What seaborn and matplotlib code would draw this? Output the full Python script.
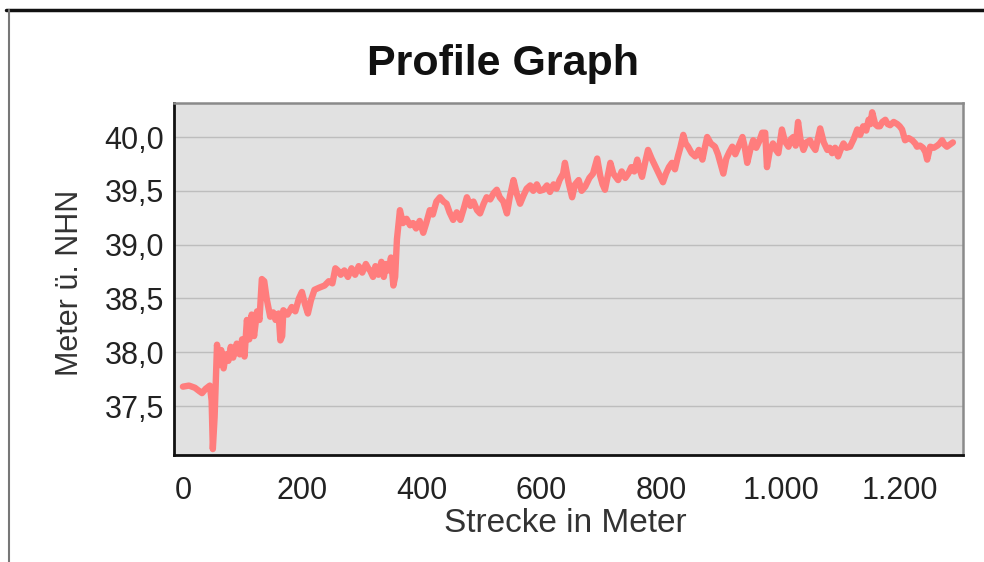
"""Profile graph: elevation along a track (Strecke vs. Meter ü. NHN)."""
import matplotlib
matplotlib.use("Agg")
import matplotlib.pyplot as plt
import matplotlib.ticker as mticker
import pandas as pd
import seaborn as sns

TITLE = "Profile Graph"
X_LABEL = "Strecke in Meter"
Y_LABEL = "Meter ü. NHN"

# distance along the track (m)
distance_m = [
    0, 10, 20, 27, 32, 38, 45, 48, 50, 53, 57, 60, 64, 68, 72, 76, 80, 84, 90, 95,
    99, 103, 107, 111, 115, 119, 124, 128, 132, 136, 140, 146, 151, 155, 160, 163,
    166, 168, 175, 182, 188, 194, 199, 204, 209, 214, 220, 228, 237, 244, 250, 255,
    259, 264, 270, 276, 282, 288, 294, 300, 306, 310, 313, 318, 322, 327, 332, 336,
    340, 344, 348, 352, 355, 358, 363, 368, 374, 380, 385, 390, 396, 402, 407, 413,
    418, 424, 430, 436, 441, 446, 452, 458, 464, 470, 475, 481, 486, 492, 497, 503,
    508, 514, 520, 525, 530, 536, 542, 547, 553, 558, 564, 570, 575, 581, 586, 592,
    597, 603, 609, 614, 620, 625, 630, 636, 639, 645, 651, 656, 662, 667, 673, 680,
    686, 693, 698, 702, 706, 710, 715, 720, 728, 734, 740, 745, 750, 755, 760, 764,
    768, 773, 778, 784, 790, 796, 803, 808, 813, 818, 823, 828, 832, 837, 841, 845,
    851, 857, 863, 869, 873, 877, 883, 890, 895, 899, 904, 909, 914, 919, 924, 930,
    936, 940, 944, 949, 954, 959, 964, 969, 974, 977, 982, 987, 992, 996, 1002, 1007,
    1013, 1017, 1021, 1025, 1029, 1033, 1038, 1043, 1049, 1053, 1058, 1062, 1066,
    1072, 1078, 1082, 1086, 1091, 1096, 1100, 1105, 1110, 1116, 1122, 1128, 1133,
    1138, 1143, 1147, 1150, 1153, 1158, 1162, 1166, 1170, 1175, 1179, 1183, 1189,
    1195, 1199, 1203, 1208, 1214, 1220, 1225, 1228, 1233, 1238, 1242, 1245, 1250,
    1256, 1262, 1266, 1270, 1274, 1278, 1283, 1288,
]

# elevation (m above NHN) at each distance
elevation_m = [
    37.68, 37.69, 37.67, 37.64, 37.62, 37.66, 37.69, 37.55, 37.10, 37.40, 38.07, 37.88,
    38.02, 37.85, 37.98, 37.92, 38.05, 37.95, 38.08, 37.98, 38.12, 37.96, 38.30, 38.12,
    38.35, 38.15, 38.38, 38.30, 38.68, 38.66, 38.50, 38.33, 38.37, 38.30, 38.36, 38.11,
    38.15, 38.39, 38.35, 38.42, 38.38, 38.50, 38.56, 38.45, 38.36, 38.48, 38.58, 38.60,
    38.62, 38.66, 38.64, 38.78, 38.76, 38.72, 38.76, 38.70, 38.78, 38.72, 38.80, 38.74,
    38.82, 38.78, 38.76, 38.70, 38.80, 38.72, 38.84, 38.70, 38.82, 38.76, 38.88, 38.62,
    38.70, 39.05, 39.32, 39.20, 39.24, 39.18, 39.20, 39.15, 39.22, 39.11, 39.20, 39.32,
    39.28, 39.40, 39.44, 39.40, 39.38, 39.30, 39.23, 39.30, 39.23, 39.34, 39.44, 39.36,
    39.40, 39.32, 39.29, 39.38, 39.44, 39.42, 39.48, 39.51, 39.44, 39.40, 39.29, 39.45,
    39.60, 39.48, 39.38, 39.46, 39.52, 39.55, 39.50, 39.56, 39.50, 39.51, 39.55, 39.49,
    39.56, 39.52, 39.60, 39.66, 39.76, 39.58, 39.44, 39.56, 39.60, 39.50, 39.54, 39.62,
    39.66, 39.80, 39.64, 39.56, 39.51, 39.62, 39.76, 39.66, 39.60, 39.68, 39.62, 39.66,
    39.72, 39.68, 39.79, 39.70, 39.63, 39.76, 39.88, 39.80, 39.73, 39.66, 39.58, 39.66,
    39.72, 39.76, 39.70, 39.82, 39.90, 40.02, 39.94, 39.91, 39.85, 39.82, 39.88, 39.79,
    39.90, 40.00, 39.94, 39.91, 39.84, 39.76, 39.66, 39.80, 39.86, 39.91, 39.84, 39.92,
    40.00, 39.90, 39.76, 39.88, 39.97, 39.90, 39.96, 40.04, 40.04, 39.72, 39.88, 39.94,
    39.88, 39.85, 40.07, 39.96, 39.91, 39.98, 40.00, 39.92, 40.14, 39.98, 39.88, 39.95,
    39.97, 39.92, 39.88, 39.98, 40.08, 39.95, 39.88, 39.90, 39.85, 39.90, 39.82, 39.88,
    39.94, 39.90, 39.91, 39.98, 40.07, 40.02, 40.10, 40.06, 40.16, 40.12, 40.23, 40.12,
    40.10, 40.10, 40.14, 40.16, 40.12, 40.11, 40.14, 40.12, 40.10, 40.07, 39.97, 39.99,
    39.97, 39.94, 39.91, 39.92, 39.90, 39.86, 39.79, 39.91, 39.90, 39.92, 39.94, 39.97,
    39.93, 39.91, 39.93, 39.95,
]

x_ticks = [0, 200, 400, 600, 800, 1000, 1200]
y_ticks = [37.5, 38.0, 38.5, 39.0, 39.5, 40.0]

sns.set_style("white")
plt.rcParams["font.family"] = ["Liberation Sans", "DejaVu Sans"]

df = pd.DataFrame({"distance": distance_m, "elevation": elevation_m})

fig = plt.figure(figsize=(9.84, 5.62), dpi=100)
ax = fig.add_axes([0.1768, 0.1904, 0.8019, 0.6263])
ax.set_facecolor("#e1e1e1")

sns.lineplot(data=df, x="distance", y="elevation", ax=ax, color="#ff7d7d",
             linewidth=4.6, solid_joinstyle="round", solid_capstyle="round")

ax.set_xlim(-15, 1305)
ax.set_ylim(37.045, 40.316)
ax.set_xticks(x_ticks)
ax.set_yticks(y_ticks)
ax.xaxis.set_major_formatter(mticker.FuncFormatter(lambda v, _: f"{int(v):,}".replace(",", ".")))
ax.yaxis.set_major_formatter(mticker.FuncFormatter(lambda v, _: f"{v:.1f}".replace(".", ",")))
ax.yaxis.grid(True, color="#bdbdbd", linewidth=1.0)
ax.set_axisbelow(True)

ax.tick_params(axis="both", labelsize=22, colors="#222222", direction="out")
ax.tick_params(axis="y", length=5, width=1.3, pad=2)
ax.tick_params(axis="x", length=7, width=1.5, pad=8)

for side in ("left", "bottom"):
    ax.spines[side].set_color("#111111")
    ax.spines[side].set_linewidth(2.0)
for side in ("top", "right"):
    ax.spines[side].set_color("#8a8a8a")
    ax.spines[side].set_linewidth(1.8)

ax.set_xlabel("")
ax.set_ylabel("")
fig.text(0.575, 0.069, X_LABEL, ha="center", va="center", fontsize=24, color="#333333")
fig.text(0.071, 0.496, Y_LABEL, ha="center", va="center", rotation=90,
         fontsize=22, color="#333333")
fig.text(0.511, 0.886, TITLE, ha="center", va="center", fontsize=31,
         fontweight="bold", color="#111111")

# outer frame of the original screenshot
fig.add_artist(plt.Line2D([0.006, 1.0], [0.982, 0.982], transform=fig.transFigure,
                          color="#111111", linewidth=2.5))
fig.add_artist(plt.Line2D([0.009, 0.009], [0.0, 0.982], transform=fig.transFigure,
                          color="#777777", linewidth=1.5))

fig.savefig("out.png", dpi=100)
